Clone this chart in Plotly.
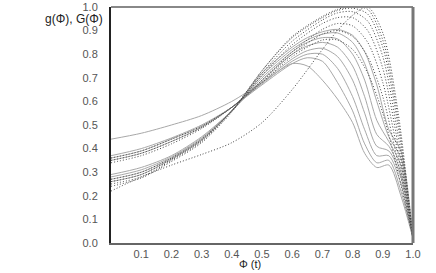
import plotly.graph_objects as go

# x grids (Phi)
x_solid = [0, 0.1, 0.2, 0.3, 0.4, 0.5, 0.6, 0.65, 0.7, 0.75, 0.8, 0.84, 0.88, 0.92, 0.96, 1.0]
x_dotted = [0, 0.1, 0.2, 0.3, 0.4, 0.5, 0.6, 0.7, 0.75, 0.8, 0.85, 0.9, 0.95, 1.0]

# g(Phi) curves (solid grey)
g1 = [0.44, 0.465, 0.50, 0.54, 0.60, 0.68, 0.76, 0.75, 0.69, 0.61, 0.51, 0.38, 0.32, 0.33, 0.20, 0.02]
g2 = [0.37, 0.40, 0.445, 0.50, 0.575, 0.67, 0.76, 0.785, 0.77, 0.68, 0.56, 0.42, 0.34, 0.35, 0.22, 0.02]
g3 = [0.36, 0.39, 0.44, 0.495, 0.575, 0.675, 0.77, 0.80, 0.80, 0.74, 0.62, 0.48, 0.37, 0.37, 0.25, 0.02]
g4 = [0.35, 0.38, 0.43, 0.49, 0.575, 0.68, 0.78, 0.815, 0.825, 0.79, 0.69, 0.55, 0.41, 0.39, 0.28, 0.02]
g5 = [0.29, 0.32, 0.37, 0.45, 0.56, 0.69, 0.80, 0.835, 0.85, 0.83, 0.75, 0.62, 0.46, 0.41, 0.30, 0.02]
g6 = [0.28, 0.31, 0.365, 0.445, 0.56, 0.70, 0.81, 0.85, 0.87, 0.865, 0.80, 0.69, 0.52, 0.43, 0.33, 0.02]
g7 = [0.27, 0.30, 0.36, 0.44, 0.56, 0.71, 0.82, 0.86, 0.885, 0.89, 0.85, 0.76, 0.60, 0.45, 0.36, 0.02]
g8 = [0.26, 0.29, 0.355, 0.435, 0.56, 0.72, 0.83, 0.87, 0.895, 0.905, 0.88, 0.81, 0.67, 0.48, 0.39, 0.02]

# G(Phi) curves (dotted dark)
G1 = [0.36, 0.39, 0.44, 0.495, 0.575, 0.68, 0.79, 0.86, 0.86, 0.82, 0.72, 0.55, 0.30, 0.02]
G2 = [0.35, 0.38, 0.43, 0.49, 0.575, 0.685, 0.80, 0.885, 0.90, 0.875, 0.79, 0.62, 0.34, 0.02]
G3 = [0.34, 0.37, 0.42, 0.485, 0.575, 0.69, 0.81, 0.905, 0.93, 0.92, 0.85, 0.68, 0.38, 0.02]
G4 = [0.27, 0.30, 0.36, 0.44, 0.56, 0.71, 0.84, 0.93, 0.955, 0.955, 0.90, 0.74, 0.42, 0.02]
G5 = [0.26, 0.29, 0.355, 0.435, 0.56, 0.72, 0.855, 0.945, 0.975, 0.98, 0.94, 0.79, 0.46, 0.02]
G6 = [0.25, 0.28, 0.35, 0.43, 0.56, 0.73, 0.87, 0.955, 0.985, 0.995, 0.97, 0.83, 0.50, 0.02]
G7 = [0.24, 0.275, 0.345, 0.425, 0.555, 0.73, 0.875, 0.96, 0.99, 1.0, 0.99, 0.86, 0.53, 0.02]
G8 = [0.22, 0.28, 0.33, 0.375, 0.425, 0.51, 0.65, 0.82, 0.90, 0.965, 1.0, 0.89, 0.56, 0.02]

x_ticks = [0.1, 0.2, 0.3, 0.4, 0.5, 0.6, 0.7, 0.8, 0.9, 1.0]
x_tick_labels = ["0.1", "0.2", "0.3", "0.4", "0.5", "0.6", "0.7", "0.8", "0.9", "1.0"]
y_ticks = [0.0, 0.1, 0.2, 0.3, 0.4, 0.5, 0.6, 0.7, 0.8, 0.9, 1.0]
y_tick_labels = ["0.0", "0.1", "0.2", "0.3", "0.4", "0.5", "0.6", "0.7", "0.8", "0.9", "1.0"]

fig = go.Figure()
for g in [g1, g2, g3, g4, g5, g6, g7, g8]:
    fig.add_trace(go.Scatter(x=x_solid, y=g, mode="lines",
                             line=dict(color="#a8a8a8", width=1, shape="spline", smoothing=0.8),
                             showlegend=False, hoverinfo="skip"))
for G in [G1, G2, G3, G4, G5, G6, G7, G8]:
    fig.add_trace(go.Scatter(x=x_dotted, y=G, mode="lines",
                             line=dict(color="#404040", width=1, dash="1px,2px", shape="spline", smoothing=0.8),
                             showlegend=False, hoverinfo="skip"))

tick_font = dict(family="Liberation Sans, Arial, sans-serif", size=11, color="#555")

fig.update_layout(
    width=436, height=273,
    margin=dict(l=111, r=23, t=7, b=30),
    paper_bgcolor="white", plot_bgcolor="white",
    xaxis=dict(range=[0, 1], tickvals=x_ticks, ticktext=x_tick_labels, automargin=False,
               showgrid=False, zeroline=False, showline=True, linecolor="#666", linewidth=2,
               ticks="", tickfont=tick_font, ticklabelstandoff=0),
    yaxis=dict(range=[0, 1], tickvals=y_ticks, ticktext=y_tick_labels, automargin=False,
               showgrid=False, zeroline=False, showline=True, linecolor="#222", linewidth=2,
               ticks="", tickfont=tick_font, ticklabelstandoff=9, ticklabeloverflow="allow"),
    shapes=[
        dict(type="line", xref="paper", yref="paper", x0=0, x1=1, y0=1, y1=1,
             line=dict(color="#888", width=2)),
        dict(type="line", xref="paper", yref="paper", x0=1, x1=1, y0=0, y1=1,
             line=dict(color="#777", width=3)),
    ],
    annotations=[
        dict(text="g(Φ), G(Φ)", xref="paper", yref="paper", x=-0.02, y=0.95,
             xanchor="right", yanchor="middle", showarrow=False,
             font=dict(family="Liberation Sans, Arial, sans-serif", size=12, color="#222")),
        dict(text="Φ (t)", xref="paper", yref="paper", x=0.46, y=-0.09,
             xanchor="center", yanchor="middle", showarrow=False,
             font=dict(family="Liberation Sans, Arial, sans-serif", size=11, color="#222")),
    ],
)

fig.write_html("out.html", config={"displayModeBar": False},
               post_script="document.body.style.margin='0';")
